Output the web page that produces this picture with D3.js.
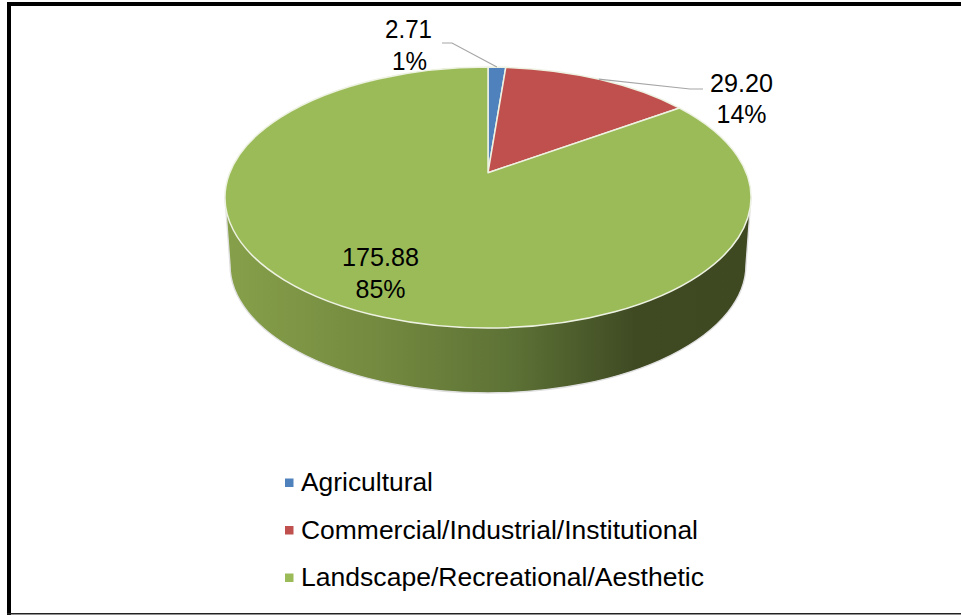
<!DOCTYPE html>
<html><head><meta charset="utf-8">
<script src="https://cdn.jsdelivr.net/npm/d3@7/dist/d3.min.js"></script>
<style>html,body{margin:0;padding:0;background:#fff}svg{display:block}text{font-family:"Liberation Sans",Arial,sans-serif;fill:#000}</style>
</head><body><svg id="c" width="961" height="615"></svg>
<script>
const categories=["Agricultural","Commercial/Industrial/Institutional","Landscape/Recreational/Aesthetic"];
const values=[2.71,29.20,175.88];
const valueLabels=["2.71","29.20","175.88"];
const percentLabels=["1%","14%","85%"];
const colors=["#4f81bd","#c0504d","#9bbb59"];
const W=961,H=615,cx=488,cy=197.5,rx=263,ry=130.5,tilt=-0.19;
const lowRx=258,lowCy=265,lowRy=128;
const svg=d3.select("#c");
const defs=svg.append("defs");
const grad=defs.append("linearGradient").attr("id","side").attr("gradientUnits","userSpaceOnUse").attr("x1",cx-rx).attr("x2",cx+rx).attr("y1",0).attr("y2",0);
[[0,"#86a04a"],[0.3,"#73893f"],[0.55,"#5c7135"],[0.78,"#3f4a23"],[1,"#3e4821"]].forEach(s=>grad.append("stop").attr("offset",s[0]).attr("stop-color",s[1]));
const slices=d3.pie().sort(null).value(d=>d)(values);
const sx=d3.scaleLinear().domain([-1,1]).range([cx-rx,cx+rx]);
const sy=d3.scaleLinear().domain([-1,1]).range([cy-ry,cy+ry]);
function project(a){
  const u=Math.sin(a),v=-Math.cos(a),w=1+tilt*v;
  return [sx(u*Math.sqrt(1-tilt*tilt)/w),sy((v+tilt)/w)];
}
const apex=[sx(0),sy(tilt)];
function wedge(s){
  const p0=project(s.startAngle),p1=project(s.endAngle);
  const large=(s.endAngle-s.startAngle)>Math.PI?1:0;
  return `M${apex}L${p0}A${rx},${ry} 0 ${large} 1 ${p1}Z`;
}
const lx=cx-lowRx,rr=cx+lowRx;
svg.append("path").attr("d",`M${sx(-1)},${cy}L${lx},${lowCy}A${lowRx},${lowRy} 0 0 0 ${rr},${lowCy}L${sx(1)},${cy}Z`)
  .attr("fill","url(#side)").attr("stroke","#e0e0e0").attr("stroke-width",1.4);
svg.selectAll("path.s").data(slices).join("path").attr("class","s").attr("d",wedge)
  .attr("fill",(d,i)=>colors[i]).attr("stroke","#eef2e2").attr("stroke-width",1.5).attr("stroke-linejoin","round");
const leadA=project((slices[0].startAngle+slices[0].endAngle)/2);
const leadB=project((slices[1].startAngle+slices[1].endAngle)/2);
svg.append("polyline").attr("points",[[442,43],[452,43],leadA].join(" ")).attr("fill","none").attr("stroke","#a6a6a6").attr("stroke-width",1.2);
svg.append("polyline").attr("points",[[703,89],[690,89],leadB].join(" ")).attr("fill","none").attr("stroke","#a6a6a6").attr("stroke-width",1.2);
const labelPos=[[408.5,38,70,47,35],[741.5,92,123,63,50],[380.5,266,298,77,50]];
labelPos.forEach((p,i)=>{
  svg.append("text").attr("x",p[0]).attr("y",p[1]).attr("text-anchor","middle").attr("font-size",26).attr("textLength",p[3]).attr("lengthAdjust","spacingAndGlyphs").text(valueLabels[i]);
  svg.append("text").attr("x",p[0]+(i==0?1:0)).attr("y",p[2]).attr("text-anchor","middle").attr("font-size",26).attr("textLength",p[4]).attr("lengthAdjust","spacingAndGlyphs").text(percentLabels[i]);
});
const ly=d3.scalePoint().domain(categories).range([482.5,577.5]);
const legendWidth=[132,397,403];
categories.forEach((c,i)=>{
  svg.append("rect").attr("x",285).attr("y",ly(c)-4).attr("width",8.5).attr("height",8.5).attr("fill",colors[i]);
  svg.append("text").attr("x",301).attr("y",ly(c)+8.5).attr("font-size",25.5).attr("textLength",legendWidth[i]).attr("lengthAdjust","spacingAndGlyphs").text(c);
});
svg.append("rect").attr("x",7).attr("y",2).attr("width",W-7).attr("height",4).attr("fill","#000");
svg.append("rect").attr("x",7).attr("y",2).attr("width",4).attr("height",H-2).attr("fill","#000");
svg.append("rect").attr("x",7).attr("y",613).attr("width",W-7).attr("height",1.5).attr("fill","#222");
</script></body></html>
